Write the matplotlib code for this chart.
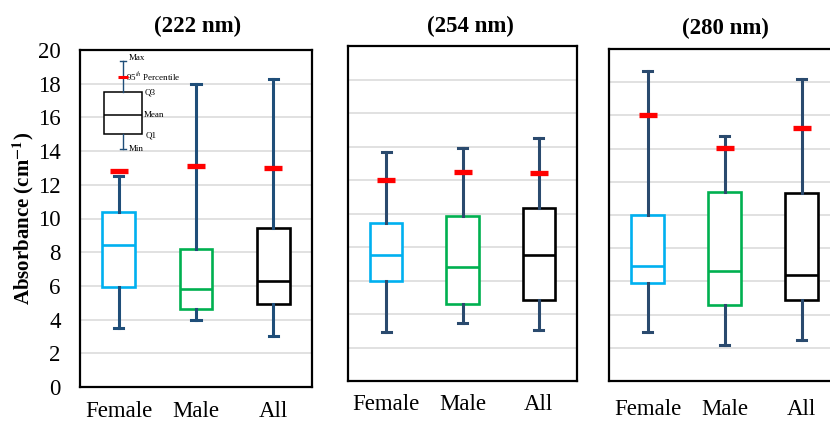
import matplotlib.pyplot as plt

plt.rcParams['font.family'] = 'Liberation Serif'
plt.rcParams['mathtext.fontset'] = 'stix'

groups = ['Female', 'Male', 'All']
titles = ['(222 nm)', '(254 nm)', '(280 nm)']

# min, Q1, mean, Q3, max and 95th percentile for each wavelength
mins_222 = [3.5, 4.0, 3.05]
q1_222 = [5.95, 4.6, 4.9]
mean_222 = [8.4, 5.8, 6.3]
q3_222 = [10.4, 8.2, 9.45]
max_222 = [12.5, 18.0, 18.3]
p95_222 = [12.8, 13.1, 13.0]

mins_254 = [2.95, 3.45, 3.05]
q1_254 = [5.95, 4.6, 4.85]
mean_254 = [7.5, 6.8, 7.5]
q3_254 = [9.45, 9.85, 10.35]
max_254 = [13.65, 13.9, 14.5]
p95_254 = [12.0, 12.45, 12.4]

mins_280 = [2.95, 2.15, 2.45]
q1_280 = [5.9, 4.6, 4.85]
mean_280 = [6.9, 6.65, 6.4]
q3_280 = [10.0, 11.4, 11.35]
max_280 = [18.65, 14.75, 18.2]
p95_280 = [16.0, 14.05, 15.25]

# sample box for the key in the first panel
key_min, key_q1, key_mean, key_q3, key_max, key_p95 = 14.15, 15.0, 16.15, 17.5, 19.35, 18.4

box_colors = ['#00B0F0', '#00B050', '#000000']
RED = '#FF0000'
TICK_FS = 16.5

fig = plt.figure(figsize=(8.3, 4.22), dpi=100)
W, H = 830.0, 422.0


def px_axes(x0, x1, y0, y1):
    return fig.add_axes([x0 / W, 1 - y1 / H, (x1 - x0) / W, (y1 - y0) / H])


def draw(ax, mins, q1, mean, q3, maxs, p95, whisk):
    for i in range(len(groups)):
        st = dict(label=groups[i], whislo=mins[i], q1=q1[i], med=mean[i],
                  q3=q3[i], whishi=maxs[i], fliers=[])
        ax.bxp([st], positions=[i], widths=0.42, capwidths=0.12,
               patch_artist=True, showfliers=False, manage_ticks=False,
               boxprops=dict(facecolor='white', edgecolor=box_colors[i], linewidth=1.9),
               medianprops=dict(color=box_colors[i], linewidth=1.9),
               whiskerprops=dict(color=whisk, linewidth=2.2),
               capprops=dict(color=whisk, linewidth=2.2))
    ax.plot(range(len(groups)), p95, ls='none', marker='_', ms=13, mew=3.8,
            color=RED, zorder=5)
    ax.set_xlim(-0.5, 2.5)
    ax.set_ylim(0, 20)
    ax.set_yticks(range(0, 21, 2))
    ax.set_xticks(range(len(groups)), groups)
    ax.yaxis.grid(True, color='#D9D9D9', linewidth=1.1)
    ax.set_axisbelow(True)
    ax.tick_params(length=0, labelsize=TICK_FS)
    for s in ax.spines.values():
        s.set_linewidth(1.6)
        s.set_color('black')


ax1 = px_axes(80, 312, 50, 387)
draw(ax1, mins_222, q1_222, mean_222, q3_222, max_222, p95_222, '#1F4E79')
ax1.tick_params(axis='y', pad=14)
ax1.tick_params(axis='x', pad=10)

ax2 = px_axes(348, 577, 46, 381)
draw(ax2, mins_254, q1_254, mean_254, q3_254, max_254, p95_254, '#2A4A6E')
ax2.tick_params(axis='y', labelleft=False)
ax2.tick_params(axis='x', pad=9)

ax3 = px_axes(609, 840, 49, 381)
draw(ax3, mins_280, q1_280, mean_280, q3_280, max_280, p95_280, '#2A4A6E')
ax3.tick_params(axis='y', labelleft=False)
ax3.tick_params(axis='x', pad=13)

# key drawn inside the first panel
kx = 0.055
ax1.bxp([dict(whislo=key_min, q1=key_q1, med=key_mean, q3=key_q3, whishi=key_max, fliers=[])],
        positions=[kx], widths=0.5, capwidths=0.07, patch_artist=True,
        showfliers=False, manage_ticks=False,
        boxprops=dict(facecolor='white', edgecolor='black', linewidth=1.1),
        medianprops=dict(color='black', linewidth=1.1),
        whiskerprops=dict(color='#1F4E79', linewidth=1.0),
        capprops=dict(color='#1F4E79', linewidth=1.0))
ax1.plot([kx], [key_p95], ls='none', marker='_', ms=6.5, mew=2.2, color=RED, zorder=5)
kfs = 6.5
ax1.text(kx + 0.07, key_max + 0.15, 'Max', fontsize=kfs, va='center')
ax1.text(kx + 0.045, key_p95, '95$^{th}$ Percentile', fontsize=kfs, va='center')
ax1.text(kx + 0.275, key_q3, 'Q3', fontsize=kfs, va='center')
ax1.text(kx + 0.275, key_mean, 'Mean', fontsize=kfs, va='center')
ax1.text(kx + 0.29, key_q1 - 0.05, 'Q1', fontsize=kfs, va='center')
ax1.text(kx + 0.07, key_min, 'Min', fontsize=kfs, va='center')

for t, (x, y) in zip(titles, [(198, 26), (470, 26), (725, 28)]):
    fig.text(x / W, 1 - y / H, t, fontsize=16.5, fontweight='bold', ha='center', va='center')

fig.text(23 / W, 1 - 218 / H, r'Absorbance (cm$^{\mathbf{-1}}$)', rotation=90,
         fontsize=15, fontweight='bold', ha='center', va='center')

fig.savefig('out.png', dpi=100)
